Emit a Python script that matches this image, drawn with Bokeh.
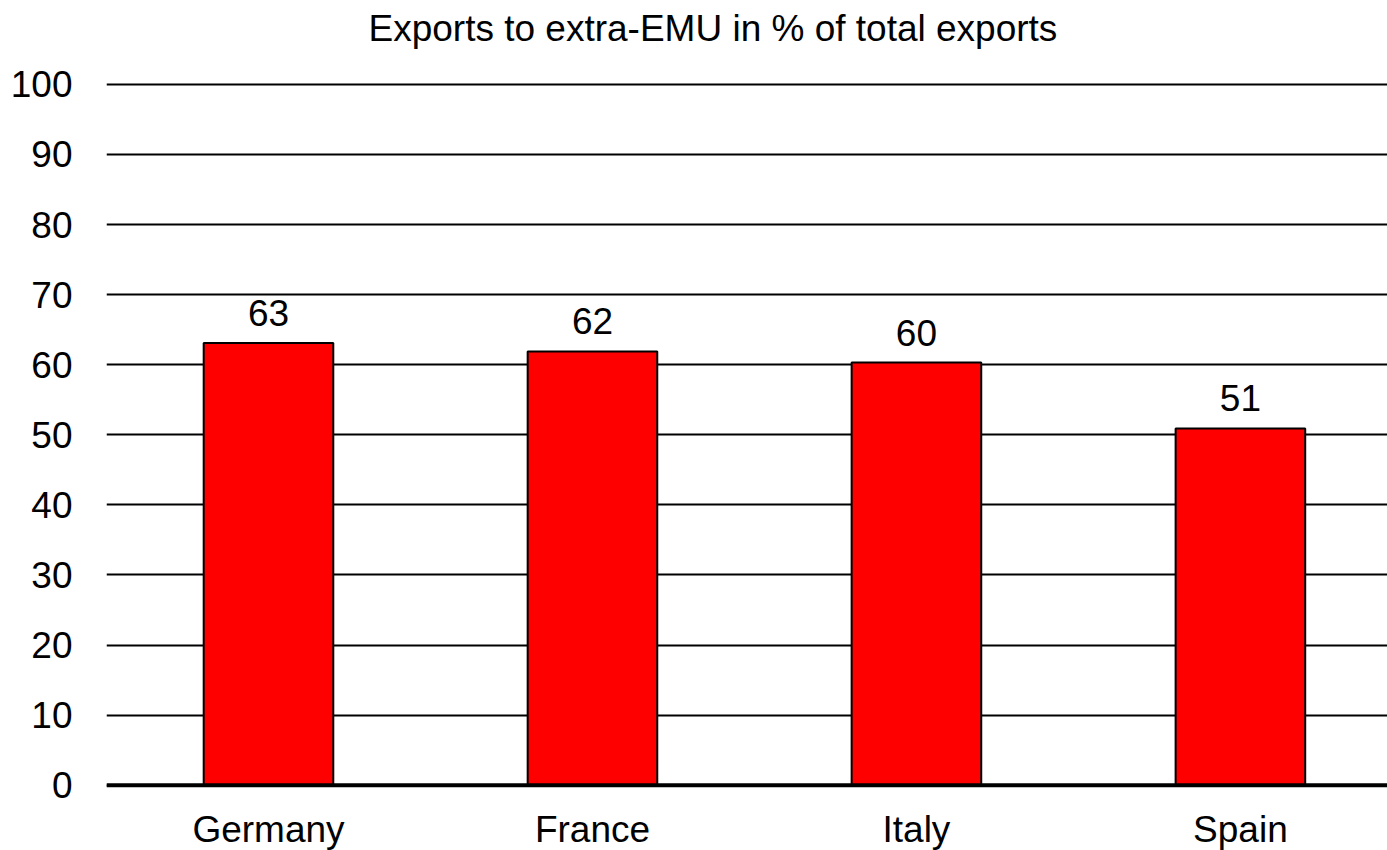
from bokeh.plotting import figure
from bokeh.models import Range1d, Span, FixedTicker, ColumnDataSource, Title
from bokeh.core.properties import value
from bokeh.embed import file_html
from bokeh.resources import INLINE

countries = ["Germany", "France", "Italy", "Spain"]
shares = [63.1, 61.9, 60.3, 50.9]
y_ticks = [0, 10, 20, 30, 40, 50, 60, 70, 80, 90, 100]
title_text = "Exports to extra-EMU in % of total exports"

FONT = "Liberation Sans"
FS = "37px"

xs = list(range(len(countries)))
src = ColumnDataSource(dict(
    x=xs, top=shares, label=[str(int(round(v))) for v in shares]))

p = figure(width=1387, height=850, frame_width=1281, frame_height=708,
           output_backend="svg", toolbar_location=None,
           x_range=Range1d(-0.5, 3.454), y_range=Range1d(-0.6, 100.4),
           min_border_left=106, min_border_right=0, min_border_top=80,
           min_border_bottom=62)
p.outline_line_color = None
p.background_fill_color = "white"
p.border_fill_color = "white"

spacer = Title(text=" ", text_font=FONT, text_font_size="14px",
               text_color="white")
p.add_layout(spacer, "above")
t = Title(text=title_text, align="left", offset=262,
          text_font=FONT, text_font_size=FS, text_font_style="normal",
          text_color="black")
p.add_layout(t, "above")

p.vbar(x="x", top="top", bottom=0, width=0.40, source=src,
       fill_color="#ff0000", line_color="black", line_width=2)

p.text(x="x", y="top", text="label", source=src, text_align="center",
       text_baseline="alphabetic", y_offset=-30, text_font=value(FONT),
       text_font_size=FS, text_color="black")

zero = Span(location=0, dimension="width", line_color="black", line_width=4)
p.add_layout(zero)

p.xgrid.visible = False
p.ygrid.ticker = FixedTicker(ticks=y_ticks)
p.ygrid.grid_line_color = "black"
p.ygrid.grid_line_width = 2
p.ygrid.level = "underlay"

p.yaxis.ticker = FixedTicker(ticks=y_ticks)
p.yaxis.axis_line_color = None
p.yaxis.major_tick_line_color = None
p.yaxis.minor_tick_line_color = None
p.yaxis.major_tick_out = 0
p.yaxis.major_tick_in = 0
p.yaxis.major_label_standoff = 34
p.yaxis.major_label_text_font = FONT
p.yaxis.major_label_text_font_size = FS
p.yaxis.major_label_text_color = "black"

p.xaxis.ticker = FixedTicker(ticks=xs)
p.xaxis.major_label_overrides = {i: c for i, c in zip(xs, countries)}
p.xaxis.axis_line_color = None
p.xaxis.major_tick_line_color = None
p.xaxis.minor_tick_line_color = None
p.xaxis.major_tick_out = 0
p.xaxis.major_tick_in = 0
p.xaxis.major_label_standoff = 19
p.xaxis.major_label_text_font = FONT
p.xaxis.major_label_text_font_size = FS
p.xaxis.major_label_text_color = "black"

open("out.html", "w").write(file_html(p, INLINE))
